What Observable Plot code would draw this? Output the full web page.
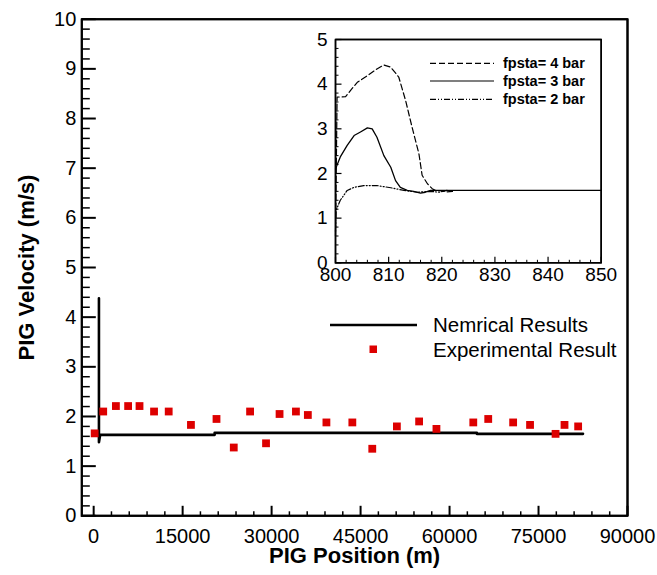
<!DOCTYPE html>
<html><head><meta charset="utf-8">
<script src="https://cdn.jsdelivr.net/npm/d3@7"></script>
<script src="https://cdn.jsdelivr.net/npm/@observablehq/plot@0.6"></script>
<style>
body{margin:0;background:#fff;font-family:"Liberation Sans",Arial,sans-serif;}
#wrap{position:relative;width:657px;height:575px;background:#fff}
#inset{position:absolute;left:290px;top:20px;width:350px;height:275px}
</style></head><body><div id="wrap"><div id="main"></div><div id="inset"></div></div>
<script>
// ---- main chart data ----
const expPosition = [170, 1610, 3750, 5810, 7730, 10180, 12650, 16400, 20710, 23620, 26370, 29060, 31340, 34100, 36110, 39240, 43610, 46970, 51120, 54870, 57790, 64000, 66520, 70720, 73570, 77870, 79380, 81680];
const expVelocity = [1.66, 2.10, 2.21, 2.21, 2.21, 2.10, 2.10, 1.83, 1.95, 1.375, 2.10, 1.46, 2.05, 2.10, 2.03, 1.88, 1.88, 1.35, 1.80, 1.90, 1.75, 1.88, 1.95, 1.88, 1.83, 1.65, 1.83, 1.80];
const numPosition = [890, 890, 1100, 20400, 20400, 64600, 64600, 82500];
const numVelocity = [4.38, 1.48, 1.63, 1.63, 1.67, 1.67, 1.65, 1.65];
const xMajorTicks = [0, 15000, 30000, 45000, 60000, 75000, 90000];
const yMajorTicks = [0, 1, 2, 3, 4, 5, 6, 7, 8, 9, 10];
const xTitle = "PIG Position (m)";
const yTitle = "PIG Velocity (m/s)";
const legendLabels = ["Nemrical Results", "Experimental Result"];

// ---- inset data ----
const inset4x = [800, 800.3, 801.9, 803.1, 804.1, 806, 807.8, 809.1, 810.4, 811.9, 813.2, 814.4, 815.7, 816.3, 817.3, 818.2, 818.8, 820, 821, 822];
const inset4v = [0.6, 3.71, 3.72, 3.90, 4.04, 4.19, 4.34, 4.43, 4.38, 4.16, 3.63, 3.04, 2.44, 1.96, 1.77, 1.66, 1.62, 1.61, 1.59, 1.60];
const inset3x = [800, 800.9, 802.2, 803.5, 804.7, 806, 806.9, 807.8, 809.1, 810.4, 811.3, 812.2, 813.5, 814.7, 816, 816.9, 817.9, 819, 850];
const inset3v = [2.1, 2.37, 2.63, 2.85, 2.93, 3.02, 3.0, 2.81, 2.40, 2.14, 1.84, 1.69, 1.62, 1.60, 1.56, 1.58, 1.62, 1.62, 1.62];
const inset2x = [800, 800.1, 800.9, 802.2, 803.5, 805.3, 807.8, 810.4, 812.9, 815.4, 817.9, 819.5, 821, 822];
const inset2v = [0.7, 1.17, 1.40, 1.62, 1.69, 1.73, 1.73, 1.68, 1.62, 1.58, 1.60, 1.58, 1.62, 1.60];
const insetXTicks = [800, 810, 820, 830, 840, 850];
const insetYTicks = [0, 1, 2, 3, 4, 5];
const insetLabels = ["fpsta= 4 bar", "fpsta= 3 bar", "fpsta= 2 bar"];
const insetDash = ["6,3", null, "6,2,1,2,1,2"];

const FONT = "Liberation Sans, Arial, sans-serif";
const RED = "#dd0000";

function minorTicks(majors, n) {
  const out = [];
  for (let i = 0; i < majors.length - 1; i++) {
    const a = majors[i], b = majors[i + 1];
    for (let k = 1; k < n; k++) out.push(a + (b - a) * k / n);
  }
  return out;
}
const fmt = d3.format("d");
const pts = (xs, ys) => xs.map((x, i) => ({x, y: ys[i]}));

// Frame and inward ticks drawn as line paths through the plot's scales.
// ux, uy: data units per pixel; L: tick lengths in pixels.
function frameAndTicks(xd, yd, xMaj, xMin, yMaj, yMin, ux, uy, L) {
  const seg = (list, lenX, lenY, isX) => {
    const out = [];
    list.forEach((v, k) => {
      if (isX) out.push({x: v, y: yd[0], z: k}, {x: v, y: yd[0] + lenY * uy, z: k});
      else out.push({x: xd[0], y: v, z: k}, {x: xd[0] + lenX * ux, y: v, z: k});
    });
    return out;
  };
  const box = [[xd[0], yd[0]], [xd[1], yd[0]], [xd[1], yd[1]], [xd[0], yd[1]], [xd[0], yd[0]]].map(([x, y]) => ({x, y}));
  return [
    Plot.line(seg(xMin, 0, L.xMin, true), {x: "x", y: "y", z: "z", stroke: "black", strokeWidth: L.w, strokeLinecap: "butt"}),
    Plot.line(seg(xMaj, 0, L.xMaj, true), {x: "x", y: "y", z: "z", stroke: "black", strokeWidth: L.wM, strokeLinecap: "butt"}),
    Plot.line(seg(yMin, L.yMin, 0, false), {x: "x", y: "y", z: "z", stroke: "black", strokeWidth: L.w, strokeLinecap: "butt"}),
    Plot.line(seg(yMaj, L.yMaj, 0, false), {x: "x", y: "y", z: "z", stroke: "black", strokeWidth: L.wM, strokeLinecap: "butt"}),
    Plot.frame({stroke: "black", strokeWidth: L.f}),
    Plot.line(box, {x: "x", y: "y", stroke: "black", strokeWidth: L.f, strokeLinejoin: "miter", strokeLinecap: "square"})
  ];
}

const M = {l: 81.3, r: 30, t: 18.7, b: 59.7, w: 657, h: 575};
const mxd = [-2000, 90000], myd = [0, 10];
const main = Plot.plot({
  width: M.w, height: M.h,
  marginLeft: M.l, marginRight: M.r, marginTop: M.t, marginBottom: M.b,
  style: {fontFamily: FONT, background: "white", color: "black"},
  x: {domain: mxd},
  y: {domain: myd},
  marks: [
    ...frameAndTicks(mxd, myd, xMajorTicks, minorTicks(xMajorTicks, 5), yMajorTicks, minorTicks(yMajorTicks, 5),
      (mxd[1] - mxd[0]) / (M.w - M.l - M.r), (myd[1] - myd[0]) / (M.h - M.t - M.b),
      {xMin: 4.5, xMaj: 10, yMin: 8, yMaj: 14, w: 1.5, wM: 2, f: 2}),
    Plot.axisX(xMajorTicks, {tickSize: 0, tickPadding: 13, fontSize: 20, tickFormat: fmt, label: null}),
    Plot.axisY(yMajorTicks, {tickSize: 0, tickPadding: 5.5, fontSize: 20, tickFormat: fmt, label: null}),
    Plot.line(pts(numPosition, numVelocity), {x: "x", y: "y", stroke: "black", strokeWidth: 2.6}),
    Plot.dot(pts(expPosition, expVelocity), {x: "x", y: "y", symbol: "square", r: 4.4, fill: RED}),
    Plot.text([xTitle], {text: d => d, frameAnchor: "bottom", lineAnchor: "middle", textAnchor: "middle", dy: 40, fontSize: 22, fontWeight: "bold"}),
    Plot.text([yTitle], {text: d => d, frameAnchor: "left", lineAnchor: "middle", textAnchor: "middle", dx: -55, rotate: -90, fontSize: 22, fontWeight: "bold"})
  ]
});
document.getElementById("main").appendChild(main);

// main legend (drawn into the plot's own svg)
const lg = d3.select(main).append("g").attr("font-family", FONT);
lg.append("line").attr("x1", 330).attr("x2", 417).attr("y1", 325).attr("y2", 325)
  .attr("stroke", "black").attr("stroke-width", 2.4);
lg.append("rect").attr("x", 369.5).attr("y", 345.5).attr("width", 7.5).attr("height", 7.5).attr("fill", RED);
legendLabels.forEach((t, i) => {
  lg.append("text").attr("x", 433).attr("y", 325 + i * 25).attr("dy", "0.35em")
    .attr("font-size", 20.5).attr("fill", "black").attr("text-anchor", "start").text(t);
});

const I = {l: 45, r: 39.3, t: 19, b: 32.7, w: 350, h: 275};
const ixd = [800, 850], iyd = [0, 5];
const inset = Plot.plot({
  width: I.w, height: I.h,
  marginLeft: I.l, marginRight: I.r, marginTop: I.t, marginBottom: I.b,
  style: {fontFamily: FONT, background: "transparent", color: "black"},
  x: {domain: ixd},
  y: {domain: iyd},
  marks: [
    ...frameAndTicks(ixd, iyd, insetXTicks, minorTicks(insetXTicks, 5), insetYTicks, minorTicks(insetYTicks, 5),
      (ixd[1] - ixd[0]) / (I.w - I.l - I.r), (iyd[1] - iyd[0]) / (I.h - I.t - I.b),
      {xMin: 3, xMaj: 6, yMin: 3, yMaj: 6, w: 1, wM: 1.2, f: 1.5}),
    Plot.axisX(insetXTicks, {tickSize: 0, tickPadding: 5, fontSize: 19, tickFormat: fmt, label: null}),
    Plot.axisY(insetYTicks, {tickSize: 0, tickPadding: 8, fontSize: 19, tickFormat: fmt, label: null}),
    Plot.line(pts(inset2x, inset2v), {x: "x", y: "y", stroke: "black", strokeWidth: 1.2, strokeDasharray: insetDash[2]}),
    Plot.line(pts(inset4x, inset4v), {x: "x", y: "y", stroke: "black", strokeWidth: 1.2, strokeDasharray: insetDash[0]}),
    Plot.line(pts(inset3x, inset3v), {x: "x", y: "y", stroke: "black", strokeWidth: 1.3})
  ]
});
document.getElementById("inset").appendChild(inset);

// inset legend (inset svg coordinates: origin at page 290,20)
const il = d3.select(inset).append("g").attr("font-family", FONT);
insetLabels.forEach((t, i) => {
  const y = [43.3, 61, 79.3][i];
  const l = il.append("line").attr("x1", 140).attr("x2", 204).attr("y1", y).attr("y2", y)
    .attr("stroke", "black").attr("stroke-width", 1.2);
  if (insetDash[i]) l.attr("stroke-dasharray", insetDash[i]);
  il.append("text").attr("x", 213).attr("y", y).attr("dy", "0.35em")
    .attr("font-size", 14.5).attr("font-weight", "bold").attr("fill", "black").attr("text-anchor", "start").text(t);
});
</script></body></html>
